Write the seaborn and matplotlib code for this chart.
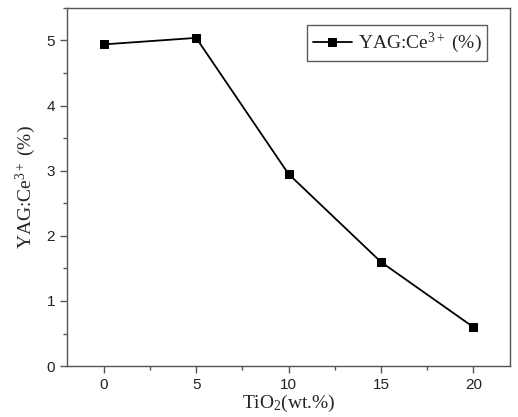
import matplotlib
matplotlib.use("Agg")
import matplotlib.pyplot as plt
import pandas as pd
import seaborn as sns
from matplotlib.ticker import MultipleLocator

TIO2 = [0, 5, 10, 15, 20]
YAG_CE = [4.94, 5.04, 2.95, 1.60, 0.60]
SERIES_LABEL = "YAG:Ce$^{3+}$ (%)"


def main() -> None:
    df = pd.DataFrame({"tio2": TIO2, "yag": YAG_CE})

    sns.set_theme(style="ticks")
    plt.rcParams["font.family"] = ["Liberation Sans", "DejaVu Sans"]
    plt.rcParams["mathtext.fontset"] = "custom"
    plt.rcParams["mathtext.rm"] = "Liberation Serif"
    plt.rcParams["mathtext.it"] = "Liberation Serif:italic"

    fig = plt.figure(figsize=(5.18, 4.17), dpi=100)
    ax = fig.add_axes([0.129, 0.122, 0.856, 0.859])

    sns.lineplot(
        data=df,
        x="tio2",
        y="yag",
        ax=ax,
        color="black",
        linewidth=1.3,
        marker="s",
        markersize=5.8,
        markeredgecolor="black",
        label=SERIES_LABEL,
    )

    ax.set_xlim(-2, 22)
    ax.set_ylim(0, 5.5)
    ax.xaxis.set_major_locator(MultipleLocator(5))
    ax.xaxis.set_minor_locator(MultipleLocator(2.5))
    ax.yaxis.set_major_locator(MultipleLocator(1))
    ax.yaxis.set_minor_locator(MultipleLocator(0.5))

    spine_color = "#555555"
    for side in ["left", "right", "top", "bottom"]:
        ax.spines[side].set_visible(True)
        ax.spines[side].set_color(spine_color)
        ax.spines[side].set_linewidth(1.0)
    ax.tick_params(which="major", direction="out", length=5, width=1,
                   color=spine_color, labelsize=11, labelcolor="#222222")
    ax.tick_params(which="minor", direction="out", length=3, width=1,
                   color=spine_color)

    ax.set_xlabel("TiO$_2$(wt.%)", family="Liberation Serif", fontsize=14,
                  labelpad=1)
    ax.set_ylabel("YAG:Ce$^{3+}$ (%)", family="Liberation Serif", fontsize=14,
                  labelpad=6)

    leg = ax.legend(loc="upper right", prop={"family": "Liberation Serif", "size": 14},
                    frameon=True, fancybox=False, edgecolor="#333333",
                    handlelength=2.0, borderpad=0.3, handletextpad=0.3,
                    borderaxespad=0, bbox_to_anchor=(0.948, 0.952))
    leg.get_frame().set_linewidth(1.0)

    fig.savefig("out.png", dpi=100)


if __name__ == "__main__":
    main()
